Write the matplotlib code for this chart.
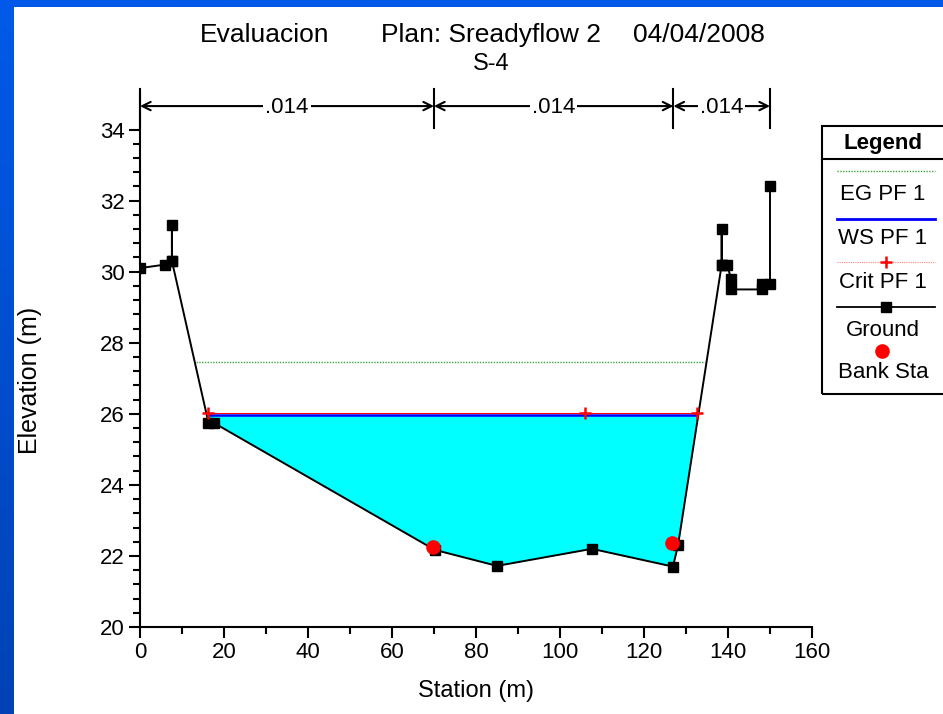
import matplotlib
matplotlib.use('Agg')
import matplotlib.pyplot as plt
import numpy as np
from matplotlib.patches import Rectangle
from matplotlib.lines import Line2D
from matplotlib.colors import LinearSegmentedColormap
from matplotlib.ticker import FixedLocator, MultipleLocator

plt.rcParams['font.family'] = ['Liberation Sans', 'DejaVu Sans']

# ---------------- data ----------------
station = [0, 6, 7.6, 7.6, 7.6, 16.3, 17.5, 70.2, 85, 107.6, 126.9, 128.1,
           138.5, 138.5, 138.5, 139.8, 140.7, 140.7, 148, 148, 150, 150]
elev = [30.1, 30.2, 30.3, 31.3, 30.3, 25.75, 25.75, 22.17, 21.72, 22.2, 21.7, 22.3,
        30.2, 31.2, 30.2, 30.2, 29.8, 29.5, 29.5, 29.65, 29.65, 32.4]

ws_elev = 25.97
ws_x = [16.3, 132.6]
crit_elev = 26.02
crit_x = [16.3, 106.0, 132.6]
eg_elev = 27.45
eg_x = [13.4, 134.6]
bank_x = [69.8, 126.7]
bank_y = [22.25, 22.37]

n_bounds = [0, 70, 127, 150]
n_values = ['.014', '.014', '.014']

x_ticks = [0, 20, 40, 60, 80, 100, 120, 140, 160]
y_ticks = [20, 22, 24, 26, 28, 30, 32, 34]

title_parts = ['Evaluacion', 'Plan: Sreadyflow 2', '04/04/2008']
subtitle = 'S-4'
legend_labels = ['EG PF 1', 'WS PF 1', 'Crit PF 1', 'Ground', 'Bank Sta']

# ---------------- figure ----------------
W, H = 943, 714
fig = plt.figure(figsize=(W / 100, H / 100), dpi=100)

def fx(px):
    return px / W

def fy(py):
    return 1 - py / H

bg = fig.add_axes([0, 0, 1, 1], zorder=-10)
grad = np.linspace(0, 1, 256).reshape(-1, 1)
cmap = LinearSegmentedColormap.from_list('bg', ['#0042b5', '#005ae9'])
bg.imshow(grad, cmap=cmap, aspect='auto', extent=[0, 1, 0, 1], origin='lower')
bg.add_patch(Rectangle((fx(14), 0), 1, fy(7), facecolor='white', edgecolor='none',
                       transform=bg.transAxes))
bg.set_xlim(0, 1)
bg.set_ylim(0, 1)
bg.axis('off')

ax = fig.add_axes([fx(140), fy(627), fx(812) - fx(140), fy(94) - fy(627)])
ax.set_facecolor('none')
ax.set_xlim(0, 160)
ax.set_ylim(20, 35)

for s in ['top', 'right']:
    ax.spines[s].set_visible(False)
for s in ['left', 'bottom']:
    ax.spines[s].set_linewidth(1.5)

ax.set_xticks(x_ticks)
ax.set_yticks(y_ticks)
ax.xaxis.set_minor_locator(MultipleLocator(10))
minor_y = [v for v in np.round(np.arange(20.4, 34.0, 0.4), 1) if abs(v - round(v / 2) * 2) > 1e-6]
ax.yaxis.set_minor_locator(FixedLocator(minor_y))
ax.tick_params(which='major', direction='out', length=8, width=1.5, labelsize=16, pad=3)
ax.tick_params(which='minor', direction='out', length=5, width=1.5)

# water fill
st = np.array(station, dtype=float)
el = np.array(elev, dtype=float)
ax.fill_between(st, el, ws_elev, where=el < ws_elev, interpolate=True,
                color='#00ffff', lw=0, zorder=1)

# EG line
ax.plot(eg_x, [eg_elev] * 2, color='#3aaa3a', lw=1.0, ls=(0, (1, 1)), zorder=2)
# Crit line (peeks above the WS line)
ax.plot([crit_x[0], crit_x[-1]], [crit_elev] * 2, color='#ff0000', lw=0.8, zorder=2.5)
# WS line
ax.plot(ws_x, [ws_elev] * 2, color='#0000ff', lw=1.8, zorder=3)
ax.plot(crit_x, [crit_elev] * len(crit_x), ls='none', marker='+', color='#ff0000',
        ms=9, mew=1.8, zorder=6)
# Ground
ax.plot(station, elev, color='black', lw=1.4, marker='s', ms=7, zorder=5)
# Bank stations
ax.plot(bank_x, bank_y, ls='none', marker='o', color='#ff0000', ms=9.5, zorder=7)

# Manning n annotations
y_arrow = 34.66
for b in n_bounds:
    ax.plot([b, b], [34.05, 35.15], color='black', lw=1.5, clip_on=False, zorder=8)
for i, val in enumerate(n_values):
    a, b = n_bounds[i], n_bounds[i + 1]
    ax.annotate('', xy=(a, y_arrow), xytext=(b, y_arrow),
                arrowprops=dict(arrowstyle='<->,head_length=0.6,head_width=0.3',
                                lw=1.5, color='black', shrinkA=0, shrinkB=0),
                annotation_clip=False, zorder=8)
    ax.text((a + b) / 2, y_arrow - 0.03, val, ha='center', va='center', fontsize=16,
            bbox=dict(facecolor='white', edgecolor='none', pad=1.5), zorder=9,
            clip_on=False)

# Axis labels
ax.set_xlabel('Station (m)', fontsize=17, labelpad=12)
fig.text(fx(30), fy(380), 'Elevation (m)', rotation=90, ha='center', va='center', fontsize=18)

# Titles
for txt, cx in zip(title_parts, [265, 491, 699]):
    fig.text(fx(cx), fy(35), txt, ha='center', va='center', fontsize=19)
fig.text(fx(491), fy(64), subtitle, ha='center', va='center', fontsize=17)

# Legend (manual, HEC-RAS style)
fig.add_artist(Rectangle((fx(822), fy(394)), fx(980) - fx(822), fy(126) - fy(394),
                         fill=False, edgecolor='black', lw=1.5, transform=fig.transFigure))
fig.add_artist(Line2D([fx(822), fx(943)], [fy(159), fy(159)], color='black', lw=1.5))
fig.text(fx(883), fy(143), 'Legend', ha='center', va='center', fontsize=16, fontweight='bold')

lx0, lx1, lxc = fx(837), fx(935), fx(886)
line_y = [171, 218.7, 261.7, 307, 351]
text_y = [195, 239, 283, 330, 373]
fig.add_artist(Line2D([lx0, lx1], [fy(line_y[0])] * 2, color='#3aaa3a', lw=1.0, ls=(0, (1, 1))))
fig.add_artist(Line2D([lx0, lx1], [fy(line_y[1])] * 2, color='#0000ff', lw=2.0))
fig.add_artist(Line2D([lx0, lx1], [fy(line_y[2])] * 2, color='#ff8080', lw=0.8, ls=(0, (1, 1))))
fig.add_artist(Line2D([lxc], [fy(line_y[2])], color='#ff0000', marker='+', ms=9, mew=1.8, ls='none'))
fig.add_artist(Line2D([lx0, lx1], [fy(line_y[3])] * 2, color='black', lw=1.3))
fig.add_artist(Line2D([lxc], [fy(line_y[3])], color='black', marker='s', ms=7, ls='none'))
fig.add_artist(Line2D([fx(882)], [fy(line_y[4])], color='#ff0000', marker='o', ms=9.5, ls='none'))
for lab, ty in zip(legend_labels, text_y):
    fig.text(fx(883), fy(ty), lab, ha='center', va='center', fontsize=16)

fig.savefig('out.png', dpi=100)
